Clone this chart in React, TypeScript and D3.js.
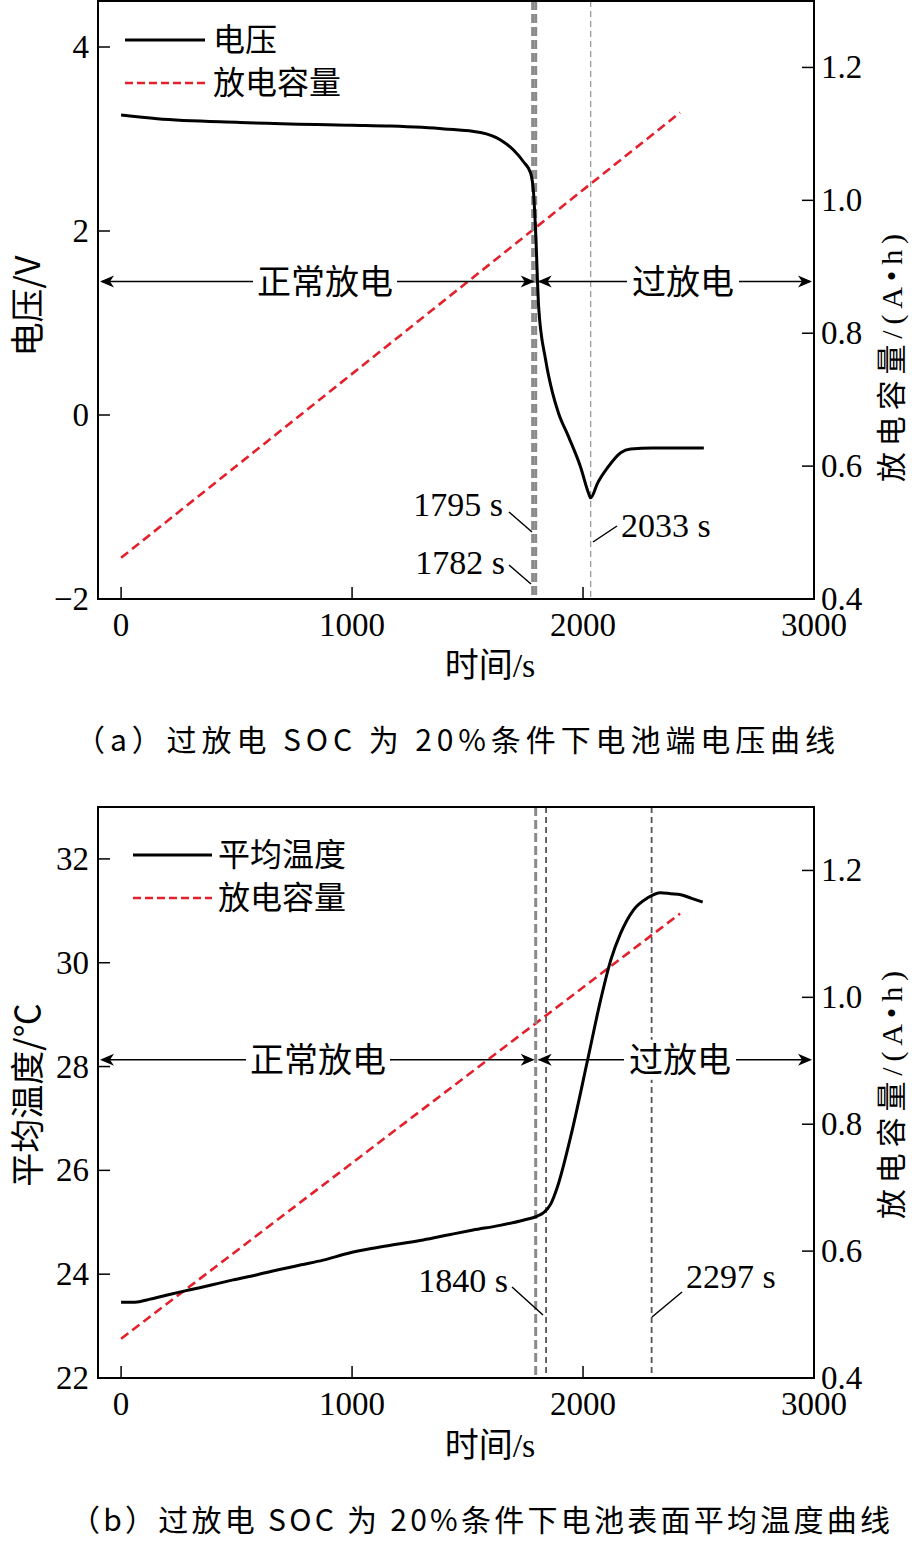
import React from 'react';
import * as d3 from 'd3';

// ---------- data ----------
const voltTime = [0, 156, 516, 1000, 1166, 1400, 1556, 1643, 1699, 1743, 1773, 1786, 1795, 1808, 1838, 1868, 1894, 1938, 1990, 2024, 2033, 2063, 2107, 2163, 2206, 2300, 2523];
const voltValue = [3.26, 3.22, 3.18, 3.15, 3.14, 3.11, 3.07, 2.99, 2.88, 2.75, 2.63, 2.41, 1.98, 1.17, 0.6, 0.24, 0.02, -0.24, -0.57, -0.85, -0.9, -0.74, -0.57, -0.41, -0.37, -0.36, -0.36];

const tempTime = [0, 60, 126, 200, 299, 400, 485, 580, 676, 780, 875, 980, 1091, 1200, 1308, 1420, 1524, 1640, 1741, 1802, 1828, 1860, 1889, 1946, 2020, 2076, 2120, 2163, 2219, 2280, 2336, 2380, 2423, 2470, 2518];
const tempValue = [23.46, 23.46, 23.52, 23.6, 23.7, 23.8, 23.89, 23.98, 24.08, 24.18, 24.27, 24.4, 24.5, 24.58, 24.66, 24.76, 24.85, 24.94, 25.04, 25.12, 25.18, 25.35, 25.68, 26.64, 28.13, 29.28, 30.05, 30.57, 31.02, 31.25, 31.35, 31.33, 31.31, 31.24, 31.17];

const capTime = [0, 2420];
const capValue = [0.462, 1.132];

const xTicks = [0, 1000, 2000, 3000];
const voltTicks = [-2, 0, 2, 4];
const tempTicks = [22, 24, 26, 28, 30, 32];
const capTicks = [0.4, 0.6, 0.8, 1.0, 1.2];

const SERIF = "'Liberation Serif', 'Times New Roman', 'Noto Sans CJK SC', serif";
const CJK = "'Noto Sans CJK SC', 'Liberation Serif', serif";
const RED = '#e3202b';

type VLine = { t: number; kind: 'thick' | 'thin' | 'dark' };
type Ann = { text: string; anchor: 'start' | 'end'; tx: number; ty: number; l: [number, number, number, number] };

interface PanelProps {
  top: number;
  bottom: number;
  leftDomain: [number, number];
  leftTicks: number[];
  leftFmt: (v: number) => string;
  leftTitle: string;
  leftTitleY: number;
  rightTitleY: number;
  mainTime: number[];
  mainValue: number[];
  legendLabel: string;
  legendX: [number, number, number];
  legendY: [number, number];
  vlines: VLine[];
  anns: Ann[];
  arrowValue: number;
  normalLabelX: number;
  overLabelX: number;
  xTitleY: number;
  caption: string;
  captionY: number;
  captionX: [number, number];
}

const Panel = (p: PanelProps) => {
  const x = d3.scaleLinear().domain([-100, 3000]).range([98, 814]);
  const yL = d3.scaleLinear().domain(p.leftDomain).range([p.bottom, p.top]);
  const yR = d3.scaleLinear().domain([0.4, 1.3]).range([p.bottom, p.top]);
  const mainLine = d3.line<number>().x((_, i) => x(p.mainTime[i])).y((d) => yL(d)).curve(d3.curveMonotoneX)(p.mainValue) || '';
  const capLine = d3.line<number>().x((_, i) => x(capTime[i])).y((d) => yR(d))(capValue) || '';
  const x0 = x.range()[0];
  const x1 = x.range()[1];
  const ay = yL(p.arrowValue);
  const split = x(1795);
  const arrowHead = (tipX: number, dir: number) =>
    `M${tipX},${ay} L${tipX - dir * 14},${ay - 6} L${tipX - dir * 10},${ay} L${tipX - dir * 14},${ay + 6} Z`;
  return (
    <g>
      <path d={capLine} fill="none" stroke={RED} strokeWidth={2.6} strokeDasharray="9 5" />
      {p.vlines.map((v, i) => (
        <line
          key={i}
          x1={x(v.t)}
          x2={x(v.t)}
          y1={p.top}
          y2={p.bottom}
          stroke={v.kind === 'thick' ? '#8a8a8a' : v.kind === 'thin' ? '#9a9a9a' : '#555'}
          strokeWidth={v.kind === 'thick' ? 3 : v.kind === 'thin' ? 1.3 : 1.8}
          strokeDasharray={v.kind === 'thick' ? '9 4' : '6 4'}
        />
      ))}
      <path d={mainLine} fill="none" stroke="#000" strokeWidth={3} strokeLinejoin="round" />
      <line x1={x0 + 4} x2={split - 3} y1={ay} y2={ay} stroke="#000" strokeWidth={1.5} />
      <line x1={split + 3} x2={x1 - 4} y1={ay} y2={ay} stroke="#000" strokeWidth={1.5} />
      <path d={arrowHead(x0 + 2, -1)} fill="#000" />
      <path d={arrowHead(split - 1, 1)} fill="#000" />
      <path d={arrowHead(split + 2, -1)} fill="#000" />
      <path d={arrowHead(x1 - 2, 1)} fill="#000" />
      <rect x={p.normalLabelX - 72} y={ay - 20} width={144} height={40} fill="#fff" />
      <text x={p.normalLabelX} y={ay + 12} textAnchor="middle" fontFamily={CJK} fontSize={34}>正常放电</text>
      <rect x={p.overLabelX - 56} y={ay - 20} width={112} height={40} fill="#fff" />
      <text x={p.overLabelX} y={ay + 12} textAnchor="middle" fontFamily={CJK} fontSize={34}>过放电</text>
      {p.anns.map((a, i) => (
        <g key={i}>
          <text x={a.tx} y={a.ty} textAnchor={a.anchor} fontFamily={SERIF} fontSize={34}>{a.text}</text>
          <line x1={a.l[0]} y1={a.l[1]} x2={a.l[2]} y2={a.l[3]} stroke="#000" strokeWidth={1.5} />
        </g>
      ))}
      <line x1={p.legendX[0]} x2={p.legendX[1]} y1={p.legendY[0]} y2={p.legendY[0]} stroke="#000" strokeWidth={3} />
      <text x={p.legendX[2]} y={p.legendY[0] + 11} fontFamily={CJK} fontSize={32}>{p.legendLabel}</text>
      <line x1={p.legendX[0]} x2={p.legendX[1]} y1={p.legendY[1]} y2={p.legendY[1]} stroke={RED} strokeWidth={2.6} strokeDasharray="8 4" />
      <text x={p.legendX[2]} y={p.legendY[1] + 11} fontFamily={CJK} fontSize={32}>放电容量</text>
      <rect x={x0} y={p.top} width={x1 - x0} height={p.bottom - p.top} fill="none" stroke="#000" strokeWidth={2} />
      {xTicks.map((t) => (
        <g key={t}>
          <line x1={x(t)} x2={x(t)} y1={p.bottom} y2={p.bottom - 12} stroke="#000" strokeWidth={1.5} />
          <text x={x(t)} y={p.bottom + 37} textAnchor="middle" fontFamily={SERIF} fontSize={33}>{t}</text>
        </g>
      ))}
      {p.leftTicks.map((t) => (
        <g key={t}>
          <line x1={x0} x2={x0 + 12} y1={yL(t)} y2={yL(t)} stroke="#000" strokeWidth={1.5} />
          <text x={x0 - 9} y={yL(t) + 11} textAnchor="end" fontFamily={SERIF} fontSize={33}>{p.leftFmt(t)}</text>
        </g>
      ))}
      {capTicks.map((t) => (
        <g key={t}>
          <line x1={x1} x2={x1 - 12} y1={yR(t)} y2={yR(t)} stroke="#000" strokeWidth={1.5} />
          <text x={x1 + 7} y={yR(t) + 11} textAnchor="start" fontFamily={SERIF} fontSize={33}>{t.toFixed(1)}</text>
        </g>
      ))}
      <text x={490} y={p.xTitleY} textAnchor="middle" fontFamily={CJK} fontSize={34}>时间<tspan fontFamily={SERIF}>/s</tspan></text>
      <text transform={`translate(40,${p.leftTitleY}) rotate(-90)`} textAnchor="middle" fontFamily={CJK} fontSize={34}>{p.leftTitle}</text>
      <text transform={`translate(902,${p.rightTitleY}) rotate(-90)`} textAnchor="middle" fontFamily={CJK} fontSize={30} textLength={248} lengthAdjust="spacing">放电容量<tspan fontFamily={SERIF}>/(A•h)</tspan></text>
      <text x={p.captionX[0]} y={p.captionY} textLength={p.captionX[1] - p.captionX[0]} lengthAdjust="spacing" fontFamily={CJK} fontSize={30}>{p.caption}</text>
    </g>
  );
};

export default function App() {
  return (
    <svg width={912} height={1541} style={{ position: 'absolute', left: 0, top: 0, background: '#fff' }}>
      <rect width={912} height={1541} fill="#fff" />
      <Panel
        top={1}
        bottom={599}
        leftDomain={[-2, 4.5]}
        leftTicks={voltTicks}
        leftFmt={(v) => (v < 0 ? `−${-v}` : `${v}`)}
        leftTitle="电压/V"
        leftTitleY={306}
        rightTitleY={358}
        mainTime={voltTime}
        mainValue={voltValue}
        legendLabel="电压"
        legendX={[125, 205, 213]}
        legendY={[40, 83]}
        vlines={[{ t: 1782, kind: 'thick' }, { t: 1795, kind: 'thick' }, { t: 2033, kind: 'thin' }]}
        anns={[
          { text: '1795 s', anchor: 'end', tx: 503, ty: 516, l: [509, 512, 532, 532] },
          { text: '1782 s', anchor: 'end', tx: 505, ty: 574, l: [509, 565, 531, 584] },
          { text: '2033 s', anchor: 'start', tx: 621, ty: 537, l: [593, 542, 617, 526] },
        ]}
        arrowValue={1.45}
        normalLabelX={325}
        overLabelX={683}
        xTitleY={677}
        caption="（a）过放电 SOC 为 20%条件下电池端电压曲线"
        captionY={751}
        captionX={[75, 835]}
      />
      <Panel
        top={807}
        bottom={1378}
        leftDomain={[22, 33]}
        leftTicks={tempTicks}
        leftFmt={(v) => `${v}`}
        leftTitle="平均温度/℃"
        leftTitleY={1095}
        rightTitleY={1095}
        mainTime={tempTime}
        mainValue={tempValue}
        legendLabel="平均温度"
        legendX={[133, 212, 218]}
        legendY={[855, 898]}
        vlines={[{ t: 1795, kind: 'thick' }, { t: 1840, kind: 'dark' }, { t: 2297, kind: 'dark' }]}
        anns={[
          { text: '1840 s', anchor: 'end', tx: 508, ty: 1292, l: [512, 1287, 543, 1315] },
          { text: '2297 s', anchor: 'start', tx: 686, ty: 1288, l: [652, 1317, 682, 1292] },
        ]}
        arrowValue={28.13}
        normalLabelX={318}
        overLabelX={680}
        xTitleY={1457}
        caption="（b）过放电 SOC 为 20%条件下电池表面平均温度曲线"
        captionY={1531}
        captionX={[70, 890]}
      />
    </svg>
  );
}
